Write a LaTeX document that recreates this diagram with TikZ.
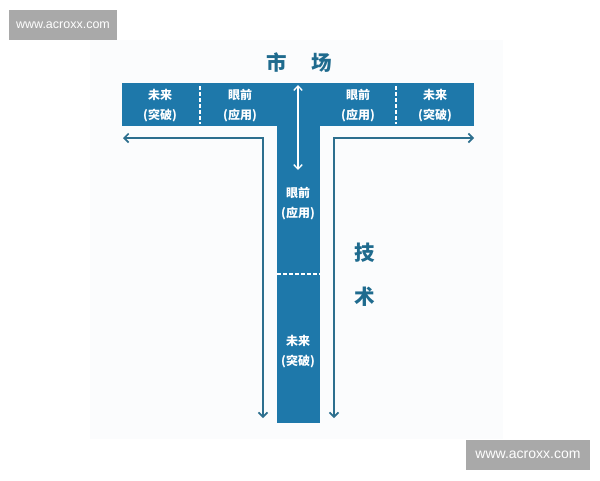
\documentclass[tikz,border=0pt]{standalone}
\usepackage{fontspec}
\newfontfamily\cjk{Noto Sans CJK SC}
\setmainfont{Liberation Sans}
\usetikzlibrary{arrows.meta}
\definecolor{barblue}{HTML}{1E78AA}
\definecolor{arrowteal}{HTML}{2D6F8E}
\definecolor{titleteal}{HTML}{1F6B8E}
\definecolor{faint}{HTML}{FBFCFD}
\definecolor{wmgray}{HTML}{A9A9A9}
\tikzset{
  bar/.style={fill=barblue, draw=none, inner sep=0pt},
  cell/.style={text=white, font=\cjk\bfseries\fontsize{12}{14}\selectfont, inner sep=0pt},
  title/.style={text=titleteal, font=\cjk\bfseries\fontsize{20.5}{22}\selectfont, inner sep=0pt},
  wm/.style={fill=wmgray, text=white, inner sep=0pt, minimum height=30pt},
  sep/.style={white, line width=1.2pt, dash pattern=on 3.5pt off 2.5pt},
  flow/.style={arrowteal, line width=1.6pt, {Straight Barb[length=4.5pt,width=9pt]}-{Straight Barb[length=4.5pt,width=9pt]}},
  inner/.style={white, line width=1.3pt, {Straight Barb[length=4.5pt,width=8.5pt]}-{Straight Barb[length=4.5pt,width=8.5pt]}}
}
\begin{document}
\begin{tikzpicture}[x=1pt,y=-1pt]
\useasboundingbox (0,0) rectangle (600,480);
\fill[white] (0,0) rectangle (600,480);
\fill[faint] (90,40) rectangle (503,439);
% watermarks
\node[wm, minimum width=108pt, font=\fontsize{12.5}{14}\selectfont] (wm1) at (63,25) {www.acroxx.com};
\node[wm, minimum width=124pt, font=\fontsize{14}{16}\selectfont] (wm2) at (528,455) {www.acroxx.com};
% T shape
\node[bar, minimum width=352pt, minimum height=43pt] (top) at (298,104.5) {};
\node[bar, minimum width=43pt, minimum height=298pt] (stem) at (298.5,274) {};
% dashed separators
\coordinate (d1a) at (200,86); \coordinate (d1b) at (200,124);
\coordinate (d2a) at (396,86); \coordinate (d2b) at (396,124);
\coordinate (d3a) at (277,274); \coordinate (d3b) at (320,274);
\draw[sep] (d1a) -- (d1b);
\draw[sep] (d2a) -- (d2b);
\draw[sep] (d3a) -- (d3b);
% cell texts
\node[cell] (t1a) at (160,95) {未来};
\node[cell] (t1b) at (160,116) {(突破)};
\node[cell] (t2a) at (240,95) {眼前};
\node[cell] (t2b) at (240,116) {(应用)};
\node[cell] (t3a) at (358,95) {眼前};
\node[cell] (t3b) at (358,116) {(应用)};
\node[cell] (t4a) at (435,95) {未来};
\node[cell] (t4b) at (435,116) {(突破)};
\node[cell] (s1a) at (298,193) {眼前};
\node[cell] (s1b) at (298,214) {(应用)};
\node[cell] (s2a) at (298,341) {未来};
\node[cell] (s2b) at (298,362) {(突破)};
% titles
\node[title] (m1) at (277,63) {市};
\node[title] (m2) at (322,63) {场};
\node[title] (j1) at (365,253) {技};
\node[title] (j2) at (365,297) {术};
% white double arrow in stem
\coordinate (ia) at (298,85);
\coordinate (ib) at (298,170);
\draw[inner] (ia) -- (ib);
% L-shaped arrows
\coordinate (la) at (123,138);
\coordinate (lc) at (263,138);
\coordinate (lb) at (263,418);
\draw[flow] (la) -- (lc) -- (lb);
\coordinate (ra) at (474,138);
\coordinate (rc) at (334,138);
\coordinate (rb) at (334,418);
\draw[flow] (ra) -- (rc) -- (rb);
\end{tikzpicture}
\end{document}
